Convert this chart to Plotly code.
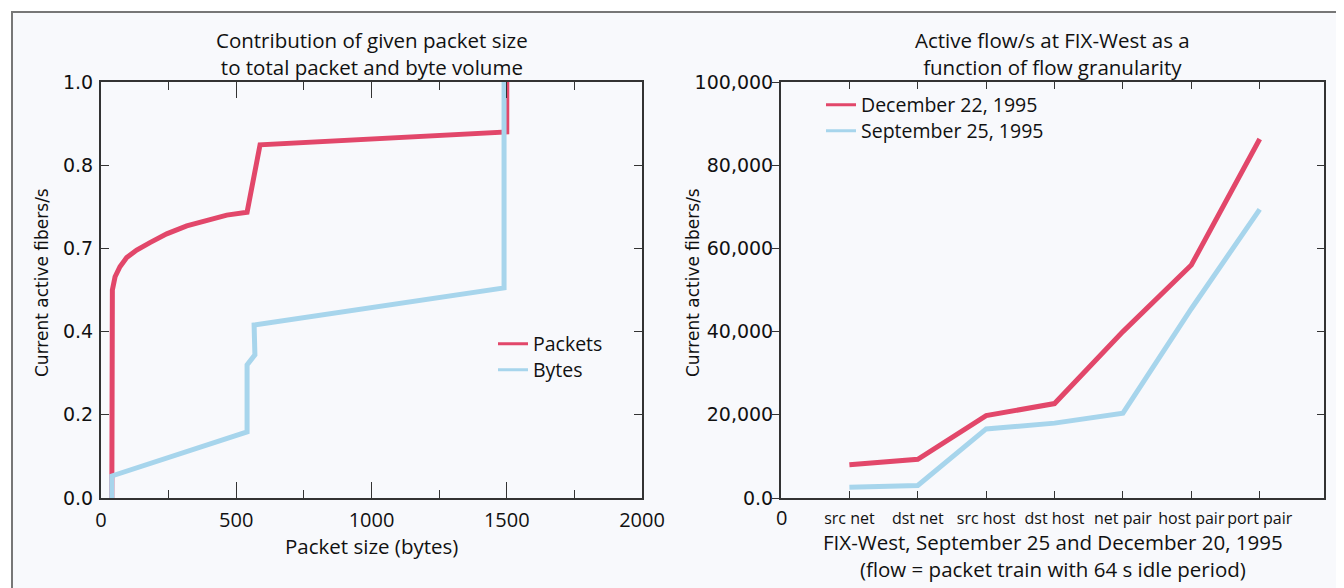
import plotly.graph_objects as go

# ---------------- data ----------------
# Left chart: cumulative contribution by packet size
packets_size = [40, 40, 42, 52, 70, 95, 132, 181, 243, 317, 391, 465, 540, 588, 1500, 1500]
packets_frac = [0.0, 0.059, 0.500, 0.532, 0.556, 0.578, 0.596, 0.614, 0.635, 0.654, 0.668, 0.680, 0.687, 0.849, 0.880, 1.0]
bytes_size = [40, 40, 540, 540, 569, 566, 1490, 1490]
bytes_frac = [0.0, 0.053, 0.159, 0.320, 0.344, 0.416, 0.505, 1.0]
left_ytickvals = [0, 0.2, 0.4, 0.6, 0.8, 1.0]
left_yticktext = ["0.0", "0.2", "0.4", "0.7", "0.8", "1.0"]

# Right chart: active flows by flow granularity
granularity = ["src net", "dst net", "src host", "dst host", "net pair", "host pair", "port pair"]
gran_pos = [1, 2, 3, 4, 5, 6, 7]
dec22 = [8000, 9300, 19800, 22700, 40000, 56000, 86300]
sep25 = [2600, 3000, 16600, 18000, 20400, 45500, 69400]
right_ytickvals = [0, 20000, 40000, 60000, 80000, 100000]
right_yticktext = ["0.0", "20,000", "40,000", "60,000", "80,000", "100,000"]

RED = "#e2476a"
BLUE = "#a7d5ec"
AX = "#333333"
W, H = 1344, 588
OFF = 8  # page body margin

def px(x):
    return (x - OFF) / W

def py(y):
    return 1 - (y - OFF) / H

fig = go.Figure()

# left chart traces
fig.add_trace(go.Scatter(x=packets_size, y=packets_frac, mode="lines",
                         line=dict(color=RED, width=5), showlegend=False,
                         xaxis="x", yaxis="y"))
fig.add_trace(go.Scatter(x=bytes_size, y=bytes_frac, mode="lines",
                         line=dict(color=BLUE, width=5), showlegend=False,
                         xaxis="x", yaxis="y"))
fig.add_trace(go.Scatter(x=[None], y=[None], mode="lines", name="Packets",
                         line=dict(color=RED, width=3), legend="legend",
                         xaxis="x", yaxis="y"))
fig.add_trace(go.Scatter(x=[None], y=[None], mode="lines", name="Bytes",
                         line=dict(color=BLUE, width=3), legend="legend2",
                         xaxis="x", yaxis="y"))

# right chart traces
fig.add_trace(go.Scatter(x=gran_pos, y=dec22, mode="lines",
                         line=dict(color=RED, width=5), showlegend=False,
                         xaxis="x2", yaxis="y2"))
fig.add_trace(go.Scatter(x=gran_pos, y=sep25, mode="lines",
                         line=dict(color=BLUE, width=5), showlegend=False,
                         xaxis="x2", yaxis="y2"))
fig.add_trace(go.Scatter(x=[None], y=[None], mode="lines", name="December 22, 1995",
                         line=dict(color=RED, width=3), legend="legend3",
                         xaxis="x2", yaxis="y2"))
fig.add_trace(go.Scatter(x=[None], y=[None], mode="lines", name="September 25, 1995",
                         line=dict(color=BLUE, width=3), legend="legend4",
                         xaxis="x2", yaxis="y2"))
fig.add_trace(go.Scatter(x=[None], y=[None], xaxis="x2", yaxis="y3", showlegend=False))

TICKF = dict(family="DejaVu Sans", size=19, color="#111")
XTF = dict(family="Open Sans", size=20, color="#111")
CATF = dict(family="Open Sans", size=16, color="#111")
LEGF = dict(family="Open Sans", size=19.5, color="#111")
TITF = dict(family="Open Sans", size=20.5, color="#111")
YTF = dict(family="DejaVu Sans", size=17, color="#111")

ydom = [py(498), py(82)]
xdom1 = [px(101), px(642)]
xdom2 = [px(781), px(1324)]

def leg(x, y):
    return dict(x=px(x), y=py(y), xanchor="left", yanchor="middle",
                bgcolor="rgba(0,0,0,0)", font=LEGF, itemwidth=30,
                borderwidth=0)

fig.update_layout(
    width=W, height=H, autosize=False,
    margin=dict(l=0, r=0, t=0, b=0, pad=0),
    paper_bgcolor="white",
    plot_bgcolor="#fdf9f8",
    xaxis=dict(domain=xdom1, range=[0, 2000], tickvals=[0, 500, 1000, 1500, 2000],
               ticks="inside", ticklen=16, tickcolor=AX, tickwidth=1,
               showline=True, linecolor=AX, linewidth=2, mirror="ticks",
               showgrid=False, zeroline=False, tickfont=XTF, automargin=False,
               ticklabelstandoff=3,
               minor=dict(tickvals=[250, 750, 1250, 1750], ticks="inside", ticklen=8, tickcolor=AX),
               anchor="y"),
    yaxis=dict(domain=ydom, range=[0, 1], tickvals=left_ytickvals, ticktext=left_yticktext,
               ticks="inside", ticklen=8, tickcolor=AX,
               showline=True, linecolor=AX, linewidth=2, mirror="ticks",
               showgrid=False, zeroline=False, tickfont=TICKF, automargin=False,
               ticklabelstandoff=2,
               anchor="x"),
    xaxis2=dict(domain=xdom2, range=[0, 7.94], tickvals=gran_pos, ticktext=granularity,
                ticks="inside", ticklen=7, tickcolor=AX,
                showline=True, linecolor=AX, linewidth=2, mirror="ticks",
                showgrid=False, zeroline=False, automargin=False,
                tickfont=CATF, ticklabelstandoff=5,
                anchor="y2"),
    yaxis2=dict(domain=ydom, range=[0, 100000], tickvals=right_ytickvals, ticktext=right_yticktext,
                ticks="outside", ticklen=7, tickcolor=AX,
                showline=True, linecolor=AX, linewidth=2, mirror=True,
                showgrid=False, zeroline=False, tickfont=TICKF, automargin=False,
                ticklabelstandoff=-5,
                anchor="x2"),
    yaxis3=dict(overlaying="y2", side="right", range=[0, 100000], tickvals=right_ytickvals,
                ticks="inside", ticklen=7, tickcolor=AX, showticklabels=False,
                showgrid=False, zeroline=False, showline=False, anchor="x2", automargin=False),
    legend=leg(493, 344),
    legend2=leg(493, 370),
    legend3=leg(821, 105),
    legend4=leg(821, 131),
    shapes=[dict(type="rect", xref="paper", yref="paper",
                 x0=px(12), x1=1.01, y0=-0.01, y1=py(12),
                 fillcolor="#f8f9fc", line=dict(color="#777", width=2), layer="below")],
)

def note(text, x, y, font, angle=0, xanchor="center", yanchor="middle", xref="paper"):
    fig.add_annotation(text=text, xref=xref, yref="paper", x=x, y=y,
                       xanchor=xanchor, yanchor=yanchor, showarrow=False,
                       font=font, textangle=angle)

cx1 = (xdom1[0] + xdom1[1]) / 2
cx2 = (xdom2[0] + xdom2[1]) / 2
note("Contribution of given packet size<br>to total packet and byte volume", cx1, py(53), TITF)
note("Active flow/s at FIX-West as a<br>function of flow granularity", cx2, py(53), TITF)
note("Packet size (bytes)", cx1, py(546), TITF)
note("FIX-West, September 25 and December 20, 1995<br>(flow = packet train with 64 s idle period)", cx2, py(555), TITF)
note("Current active fibers/s", px(42), py(283), YTF, angle=-90)
note("Current active fibers/s", px(693), py(283), YTF, angle=-90)
note("0", 0, py(517), XTF, xref="x2")

fig.write_html("out.html")
